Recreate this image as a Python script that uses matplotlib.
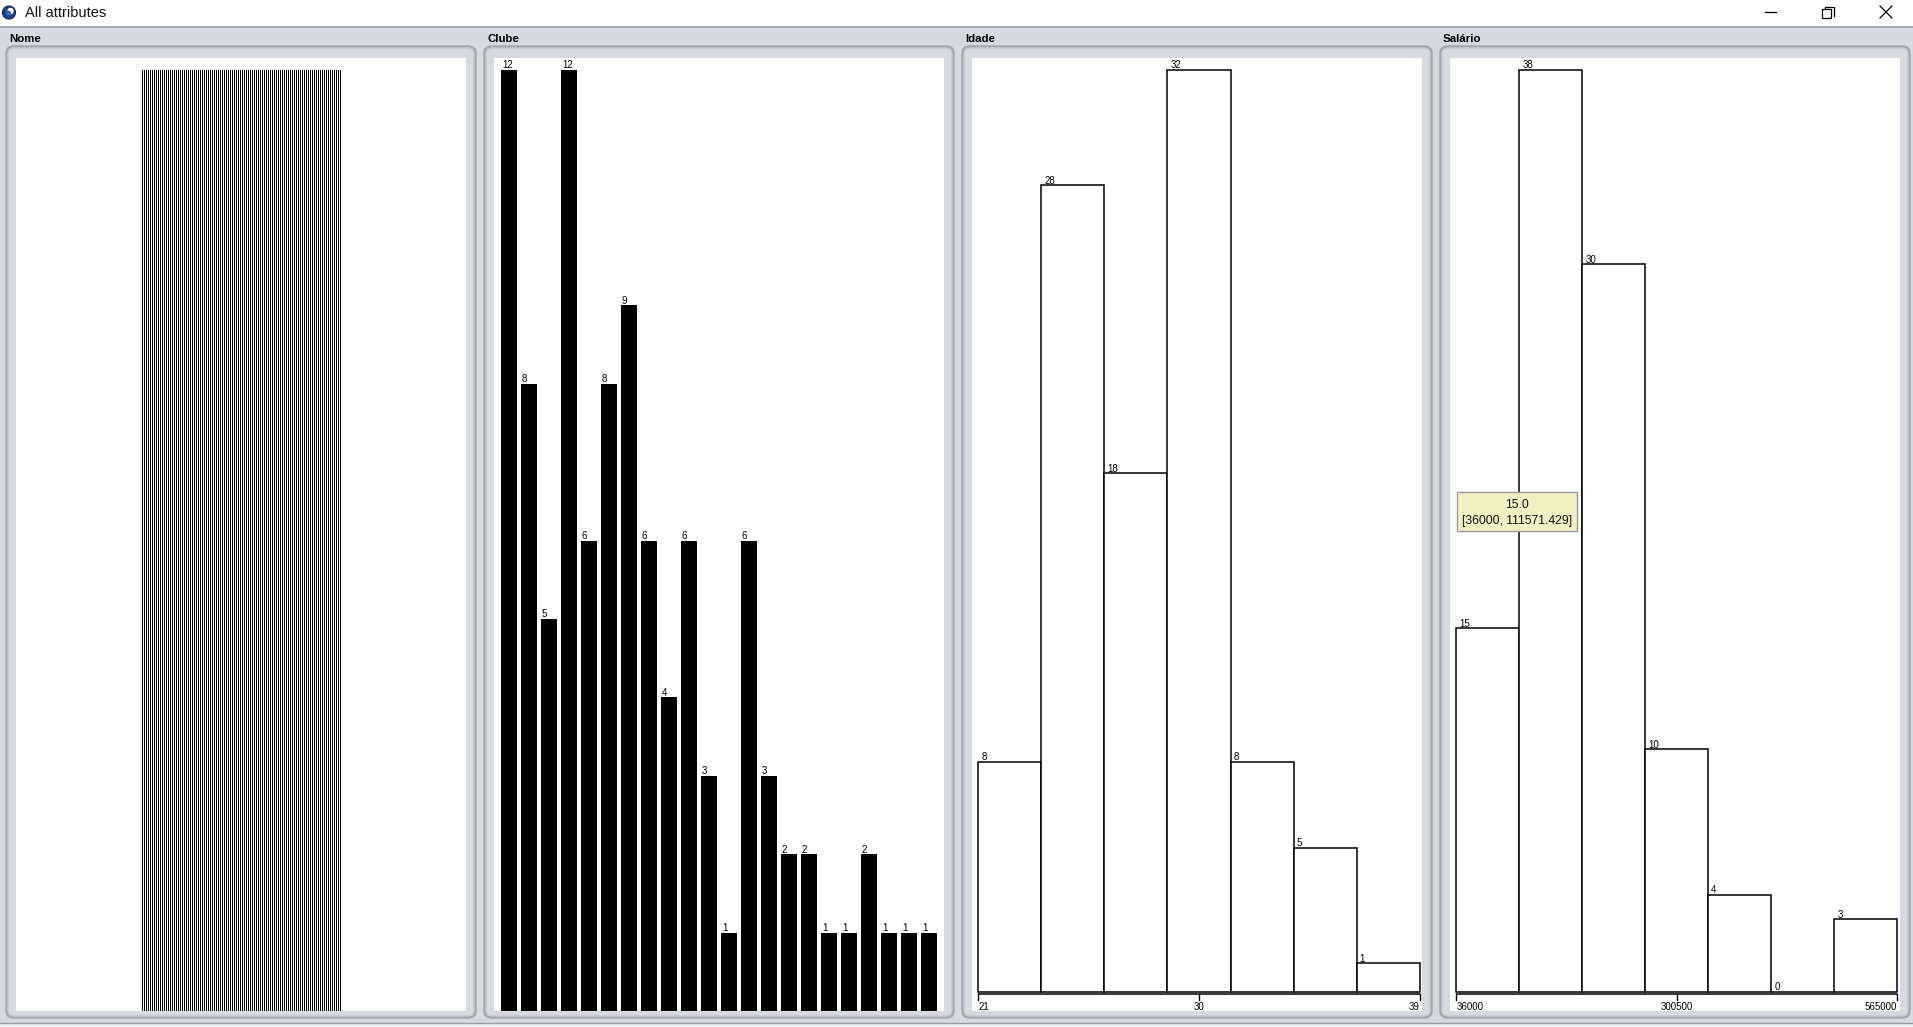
import numpy as np
import matplotlib
matplotlib.use("Agg")
import matplotlib.pyplot as plt
from matplotlib.patches import Rectangle, FancyBboxPatch, Circle
from matplotlib.lines import Line2D

# ---------------- data ----------------
window_title = "All attributes"
panel_titles = ["Nome", "Clube", "Idade", "Salário"]

nome_counts = [1] * 100  # every name appears once (100 instances)
clube_counts = [12, 8, 5, 12, 6, 8, 9, 6, 4, 6, 3, 1, 6, 3, 2, 2, 1, 1, 2, 1, 1, 1]
idade_counts = [8, 28, 18, 32, 8, 5, 1]
idade_range = (21, 39)
idade_ticks = [21, 30, 39]
salario_counts = [15, 38, 30, 10, 4, 0, 3]
salario_range = (36000, 565000)
salario_ticks = [36000, 300500, 565000]

# ---------------- figure ----------------
W, H = 1913, 1027
DPI = 100
BG = "#d6d9e0"
fig = plt.figure(figsize=(W / DPI, H / DPI), dpi=DPI, facecolor=BG)

SMALL = dict(family="Liberation Sans", fontsize=7.0, color="black")


def rect(x0, y0, x1, y1):
    return [x0 / W, 1 - y1 / H, (x1 - x0) / W, (y1 - y0) / H]


def pixel_axes():
    a = fig.add_axes([0, 0, 1, 1])
    a.set_xlim(0, W)
    a.set_ylim(H, 0)
    a.axis("off")
    a.patch.set_alpha(0)
    return a


# chrome axes in pixel coordinates
bg = pixel_axes()
bg.add_patch(Rectangle((0, 0), W, 26.5, facecolor="white", edgecolor="none"))
bg.add_line(Line2D([0, W], [27, 27], color="#9a9ea6", lw=1.2))
bg.add_line(Line2D([0, W], [1023, 1023], color="#9a9ea6", lw=1.0))
bg.add_patch(Rectangle((0, 1024), W, 3, facecolor="#eceef2", edgecolor="none"))
# icon
bg.add_patch(Circle((9, 12.5), 6.5, facecolor="#23408f", edgecolor="#0f1f55", lw=0.8))
bg.add_patch(Circle((10.5, 11), 3.2, facecolor="white", edgecolor="none"))
bg.add_patch(Circle((8.5, 13), 2.4, facecolor="#3a63c0", edgecolor="none"))
bg.text(25, 13, window_title, family="Liberation Sans", fontsize=10.5,
        va="center", ha="left", color="#111111")
# window controls
bg.add_line(Line2D([1765, 1776], [12, 12], color="black", lw=0.9))
bg.add_patch(Rectangle((1822, 9), 9, 9, facecolor="none", edgecolor="black", lw=0.9))
bg.add_line(Line2D([1824.5, 1824.5, 1833.5, 1833.5], [9, 6.5, 6.5, 15.5], color="black", lw=0.9))
bg.add_line(Line2D([1880, 1892], [6, 18], color="black", lw=0.9))
bg.add_line(Line2D([1880, 1892], [18, 6], color="black", lw=0.9))

white_lefts = [16 + 478 * i for i in range(4)]
TOP, BOTTOM = 58, 1011

for wl, title in zip(white_lefts, panel_titles):
    bg.text(wl - 7, 38.5, title, family="Liberation Sans", fontweight="bold",
            fontsize=8.2, va="center", ha="left", color="black")
    bg.add_patch(FancyBboxPatch((wl - 9.5, 46.5), 469, 971,
                                boxstyle="round,pad=0,rounding_size=7",
                                facecolor=BG, edgecolor="#a3a7ae", lw=1.8))
    bg.add_patch(FancyBboxPatch((wl - 8, 48), 466, 968,
                                boxstyle="round,pad=0,rounding_size=6",
                                facecolor="none", edgecolor="#c4c7ce", lw=1.0))


def panel_axes(wl):
    ax = fig.add_axes(rect(wl, TOP, wl + 450, BOTTOM), facecolor="white")
    ax.set_xticks([])
    ax.set_yticks([])
    for s in ax.spines.values():
        s.set_visible(False)
    return ax


# ---------------- Nome ----------------
ax = panel_axes(white_lefts[0])
pitch = 2.0
x0c = 142.5
ax.bar(np.arange(len(nome_counts)), nome_counts, width=0.5, color="black",
       linewidth=0, antialiased=False)
ax.set_xlim((16 - x0c) / pitch, (466 - x0c) / pitch)
ppu = (BOTTOM - 70) / max(nome_counts)
ax.set_ylim(0, (BOTTOM - TOP) / ppu)

# ---------------- Clube ----------------
ax = panel_axes(white_lefts[1])
pitch = 20.0
x0c = 509.0
xs = np.arange(len(clube_counts))
ax.bar(xs, clube_counts, width=0.8, color="black", linewidth=0, antialiased=False)
ax.set_xlim((494 - x0c) / pitch, (944 - x0c) / pitch)
ppu = (BOTTOM - 70) / max(clube_counts)
ax.set_ylim(0, (BOTTOM - TOP) / ppu)
for x, v in zip(xs, clube_counts):
    ax.annotate(str(v), xy=(x - 0.4, v), xytext=(1, 1.5), textcoords="offset pixels",
                ha="left", va="baseline", **SMALL)


# ---------------- histograms ----------------
def histogram(wl, counts, rng, ticks, left_px, right_px, tick_fmt):
    ax = panel_axes(wl)
    lo, hi = rng
    n = len(counts)
    edges = np.linspace(lo, hi, n + 1)
    ppx = (right_px - left_px) / (hi - lo)
    ax.set_xlim(lo - (left_px - wl) / ppx, hi + (wl + 450 - right_px) / ppx)
    base = 992.0
    ppu = (base - 70) / max(counts)
    ax.set_ylim(-(BOTTOM - base) / ppu, (base - TOP) / ppu)
    ax.bar(edges[:-1], counts, width=edges[1] - edges[0], align="edge",
           facecolor="white", edgecolor="black", linewidth=1.1)
    for e, v in zip(edges[:-1], counts):
        ax.annotate(str(v), xy=(e, v), xytext=(3, 1.5), textcoords="offset pixels",
                    ha="left", va="baseline", **SMALL)
    ay = -2.0 / ppu
    ax.plot([lo, hi], [ay, ay], color="black", lw=1.1, solid_capstyle="butt")
    for i, t in enumerate(ticks):
        ax.plot([t, t], [ay, -8.0 / ppu], color="black", lw=1.0)
        ha = "left" if i == 0 else ("right" if i == len(ticks) - 1 else "center")
        ax.text(t, -15.5 / ppu, tick_fmt(t), ha=ha, va="center", **SMALL)
    return ax, edges


histogram(white_lefts[2], idade_counts, idade_range, idade_ticks,
          978.3, 1419.7, lambda t: f"{t:d}")
ax_s, s_edges = histogram(white_lefts[3], salario_counts, salario_range, salario_ticks,
                          1456.3, 1897.3, lambda t: f"{t:d}")

# tooltip over first salary bin (overlay drawn above all panels)
top = pixel_axes()
top.add_patch(Rectangle((1457, 492), 120, 39, facecolor="#f2f0c3",
                        edgecolor="#9a9a9a", lw=1.0, zorder=5))
top.text(1517, 505, f"{float(salario_counts[0]):.1f}", ha="center", va="center",
         family="Liberation Sans", fontsize=8.8, color="#111111", zorder=6)
top.text(1517, 521, f"[{s_edges[0]:.0f}, {s_edges[1]:.3f}]", ha="center", va="center",
         family="Liberation Sans", fontsize=8.8, color="#111111", zorder=6)

fig.savefig("out.png", dpi=DPI, facecolor=BG)
